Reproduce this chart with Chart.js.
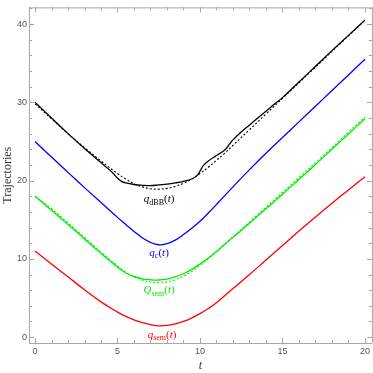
<!DOCTYPE html>
<html>
<head>
<meta charset="utf-8">
<script src="https://cdn.jsdelivr.net/npm/chart.js@4.4.0/dist/chart.umd.min.js"></script>
<style>
  html,body{margin:0;padding:0;background:#fff;}
  #wrap{width:373px;height:373px;}
</style>
</head>
<body>
<div id="wrap"><canvas id="trajChart" width="373" height="373"></canvas></div>
<script>
// trajectories (t, value)
const tDbb = [0,1,2,3,4,4.5,4.75,5,5.25,5.5,6,6.5,7,7.5,8,8.5,9,9.5,9.8,10,10.2,10.5,11,11.5,11.8,12,12.5,13,13.5,14,14.5,15,16,17,18,19,20];
const qDbb = [30.0,28.0,26.0,24.1,22.3,21.4,20.9,20.3,19.9,19.7,19.5,19.4,19.35,19.45,19.55,19.7,19.9,20.2,20.6,21.2,21.9,22.5,23.2,23.9,24.7,25.2,26.2,27.1,28.0,28.85,29.75,30.6,32.6,34.6,36.6,38.55,40.5];

const tDbbRef = [0,1,2,3,4,5,5.5,6,6.5,7,7.5,8,8.5,9,9.5,10,10.5,11,11.5,12,13,14,15,16,17,18,19,20];
const qDbbRef = [29.8,27.9,26.0,24.2,22.5,20.9,20.2,19.6,19.2,18.95,18.9,19.0,19.25,19.65,20.2,20.9,21.7,22.6,23.5,24.5,26.5,28.5,30.5,32.5,34.5,36.5,38.5,40.5];

const tGrid = [0,1,2,3,4,5,5.5,6,6.5,7,7.5,8,8.5,9,9.5,10,10.5,11,12,13,14,15,16,17,18,19,20];
const qC     = [25.0,23.0,21.05,19.1,17.2,15.3,14.4,13.5,12.7,12.1,11.8,11.95,12.4,13.1,13.9,14.8,15.85,16.95,19.2,21.4,23.5,25.5,27.5,29.5,31.5,33.5,35.5];
const qQsem  = [18.0,16.2,14.4,12.55,10.7,8.95,8.2,7.75,7.45,7.33,7.3,7.42,7.7,8.1,8.65,9.35,10.1,10.95,12.75,14.55,16.4,18.25,20.15,22.05,24.0,25.95,27.9];
const qQref  = [18.0,16.4,14.6,12.75,10.85,9.1,8.3,7.7,7.3,7.05,6.95,7.05,7.35,7.8,8.4,9.15,10.0,10.9,12.8,14.7,16.6,18.5,20.4,22.3,24.2,26.2,28.1];
const qSem   = [11.0,9.35,7.7,6.05,4.5,3.2,2.65,2.2,1.85,1.6,1.45,1.5,1.7,2.0,2.45,3.0,3.65,4.4,6.2,8.0,9.85,11.7,13.55,15.35,17.1,18.8,20.5];

const xTicks = [0,5,10,15,20];
const yTicks = [0,10,20,30,40];

function pts(ts, qs){ return ts.map((t,i) => ({x:t, y:qs[i]})); }

const frameColor = '#a8a8a8';

// Mathematica style frame: ticks pointing inward on all four sides
const frameTicks = {
  id:'frameTicks',
  afterDraw(chart){
    const {ctx, chartArea:a, scales:{x, y}} = chart;
    ctx.save();
    ctx.strokeStyle = frameColor;
    ctx.lineWidth = 1;
    ctx.beginPath();
    ctx.moveTo(a.left, a.top + 0.5); ctx.lineTo(a.right + 1, a.top + 0.5);
    ctx.moveTo(a.right + 0.5, a.top); ctx.lineTo(a.right + 0.5, a.bottom);
    for(let v = 0; v <= 20; v++){
      const px = Math.round(x.getPixelForValue(v)) + 0.5;
      const len = xTicks.includes(v) ? 5 : 3;
      ctx.moveTo(px, a.bottom); ctx.lineTo(px, a.bottom - len);
      ctx.moveTo(px, a.top); ctx.lineTo(px, a.top + len);
    }
    for(let v = 0; v <= 42; v += 2){
      const py = Math.round(y.getPixelForValue(v)) + 0.5;
      const len = yTicks.includes(v) ? 5 : 3;
      ctx.moveTo(a.left, py); ctx.lineTo(a.left + len, py);
      ctx.moveTo(a.right, py); ctx.lineTo(a.right - len, py);
    }
    ctx.stroke();
    ctx.restore();
  }
};

const curveLabels = [
  {base:'q', sub:'dBB', subItalic:false, t:7.52, v:17.25, color:'#000000'},
  {base:'q', sub:'c',   subItalic:true,  t:7.52, v:10.4,  color:'#0000ff'},
  {base:'Q', sub:'sem', subItalic:false, t:7.52, v:5.6,   color:'#00ee00'},
  {base:'q', sub:'sem', subItalic:false, t:7.7,  v:-0.1,  color:'#ff0000'}
];

const labelPlugin = {
  id:'labelPlugin',
  afterDatasetsDraw(chart){
    const {ctx, scales:{x, y}} = chart;
    const serif = '"Liberation Serif", "DejaVu Serif", serif';
    ctx.save();
    ctx.textBaseline = 'alphabetic';
    curveLabels.forEach(l => {
      const parts = [
        {s:l.base, f:'italic 11px ' + serif, dy:0},
        {s:l.sub, f:(l.subItalic ? 'italic ' : '') + '8px ' + serif, dy:2.5},
        {s:'(', f:'11px ' + serif, dy:0},
        {s:'t', f:'italic 11px ' + serif, dy:0},
        {s:')', f:'11px ' + serif, dy:0}
      ];
      let w = 0;
      parts.forEach(p => { ctx.font = p.f; p.w = ctx.measureText(p.s).width; w += p.w; });
      let px = x.getPixelForValue(l.t) - w / 2;
      const py = y.getPixelForValue(l.v);
      ctx.fillStyle = l.color;
      parts.forEach(p => { ctx.font = p.f; ctx.fillText(p.s, px, py + p.dy); px += p.w; });
    });
    ctx.restore();
  }
};

const solid = (label, ts, qs, color) => ({
  label, data: pts(ts, qs), borderColor: color, borderWidth: 1.3,
  pointRadius: 0, fill: false, tension: 0.4
});
const dashed = (label, ts, qs, color) => ({
  label, data: pts(ts, qs), borderColor: color, borderWidth: 1.1, borderDash: [2, 2],
  pointRadius: 0, fill: false, tension: 0.4
});

const ctx = document.getElementById('trajChart').getContext('2d');
new Chart(ctx, {
  type:'line',
  data:{ datasets:[
    dashed('qdBB ref', tDbbRef, qDbbRef, '#000000'),
    dashed('Qsem ref', tGrid, qQref, '#00ee00'),
    solid('qdBB', tDbb, qDbb, '#000000'),
    solid('qc', tGrid, qC, '#0000ff'),
    solid('Qsem', tGrid, qQsem, '#00ee00'),
    solid('qsem', tGrid, qSem, '#ff0000')
  ]},
  options:{
    responsive:false, animation:false, devicePixelRatio:1,
    layout:{ padding:{left:0, right:1, top:0, bottom:0} },
    plugins:{ legend:{display:false}, tooltip:{enabled:false} },
    scales:{
      x:{
        type:'linear', min:-0.364, max:20.42,
        afterFit(s){ s.height = 30; },
        grid:{display:false, drawTicks:false},
        border:{display:true, color:frameColor, width:1},
        ticks:{stepSize:5, includeBounds:false, autoSkip:false, maxRotation:0, padding:3,
               color:'#555', font:{family:'"Liberation Sans", sans-serif', size:9},
               callback: v => xTicks.includes(v) ? String(v) : ''},
        title:{display:true, text:'t', color:'#333',
               font:{family:'"Liberation Serif", serif', style:'italic', size:12},
               padding:{top:2, bottom:0}}
      },
      y:{
        type:'linear', min:-0.75, max:42.125,
        afterFit(s){ s.width = 29; },
        grid:{display:false, drawTicks:false},
        border:{display:true, color:frameColor, width:1},
        ticks:{stepSize:10, includeBounds:false, autoSkip:false, padding:2,
               color:'#555', font:{family:'"Liberation Sans", sans-serif', size:9},
               callback: v => yTicks.includes(v) ? String(v) : ''},
        title:{display:true, text:'Trajectories', color:'#333',
               font:{family:'"Liberation Serif", serif', size:12},
               padding:{top:1, bottom:0}}
      }
    }
  },
  plugins:[frameTicks, labelPlugin]
});
</script>
</body>
</html>
